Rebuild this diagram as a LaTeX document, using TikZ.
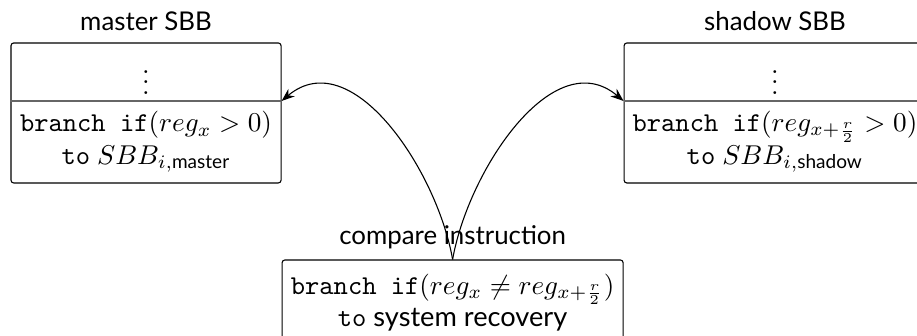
\documentclass[tikz,border=0pt]{standalone}
\usepackage{amsmath,amssymb}
\usepackage[no-math]{fontspec}
\setsansfont{Lato}
\usetikzlibrary{positioning, arrows.meta, calc}

\begin{document}
\begin{tikzpicture}[
    > = Stealth,
    thin,
    block/.style={draw, rounded corners=1pt, inner sep=0pt},
    title/.style={font=\sffamily\fontsize{9.5}{11}\selectfont, anchor=base},
    code/.style={align=center, font=\sffamily}
]
\useasboundingbox (0,0) rectangle (11.85,4.33);
\coordinate (div) at (0,3.025);

% --- master SBB ---
\node[block, minimum width=3.49cm, minimum height=1.809cm] (master) at (1.887,2.87) {};
\node[title] (mastertitle) at (1.887,3.942) {master SBB};
\node (masterdots) at (1.887,3.37) {$\vdots$};
\node[code] (mastercode) at (1.887,2.495) {\texttt{branch if}$(reg_x > 0)$\\\texttt{to} $SBB_{i,\textsf{master}}$};
\draw[black!60] (master.west |- div) -- (master.east |- div);

% --- shadow SBB ---
\node[block, minimum width=3.9cm, minimum height=1.809cm] (shadow) at (10.015,2.87) {};
\node[title] (shadowtitle) at (10.015,3.942) {shadow SBB};
\node (shadowdots) at (10.015,3.37) {$\vdots$};
\node[code] (shadowcode) at (10.015,2.495) {\texttt{branch if}$(reg_{x+\frac{r}{2}} > 0)$\\\texttt{to} $SBB_{i,\textsf{shadow}}$};
\draw[black!60] (shadow.west |- div) -- (shadow.east |- div);

% --- compare instruction ---
\node[block, minimum width=4.407cm, minimum height=1.06cm] (cmp) at (5.849,0.44) {};
\node[title] (cmptitle) at (5.849,1.176) {compare instruction};
\node[code] (cmpcode) at (5.849,0.42) {\texttt{branch if}$(reg_x \neq reg_{x+\frac{r}{2}})$\\\texttt{to} system recovery};

% branches into both blocks
\draw[->] (cmp.north) to[out=100, in=40] (master.east |- div);
\draw[->] (cmp.north) to[out=80, in=140] (shadow.west |- div);

\end{tikzpicture}
\end{document}
